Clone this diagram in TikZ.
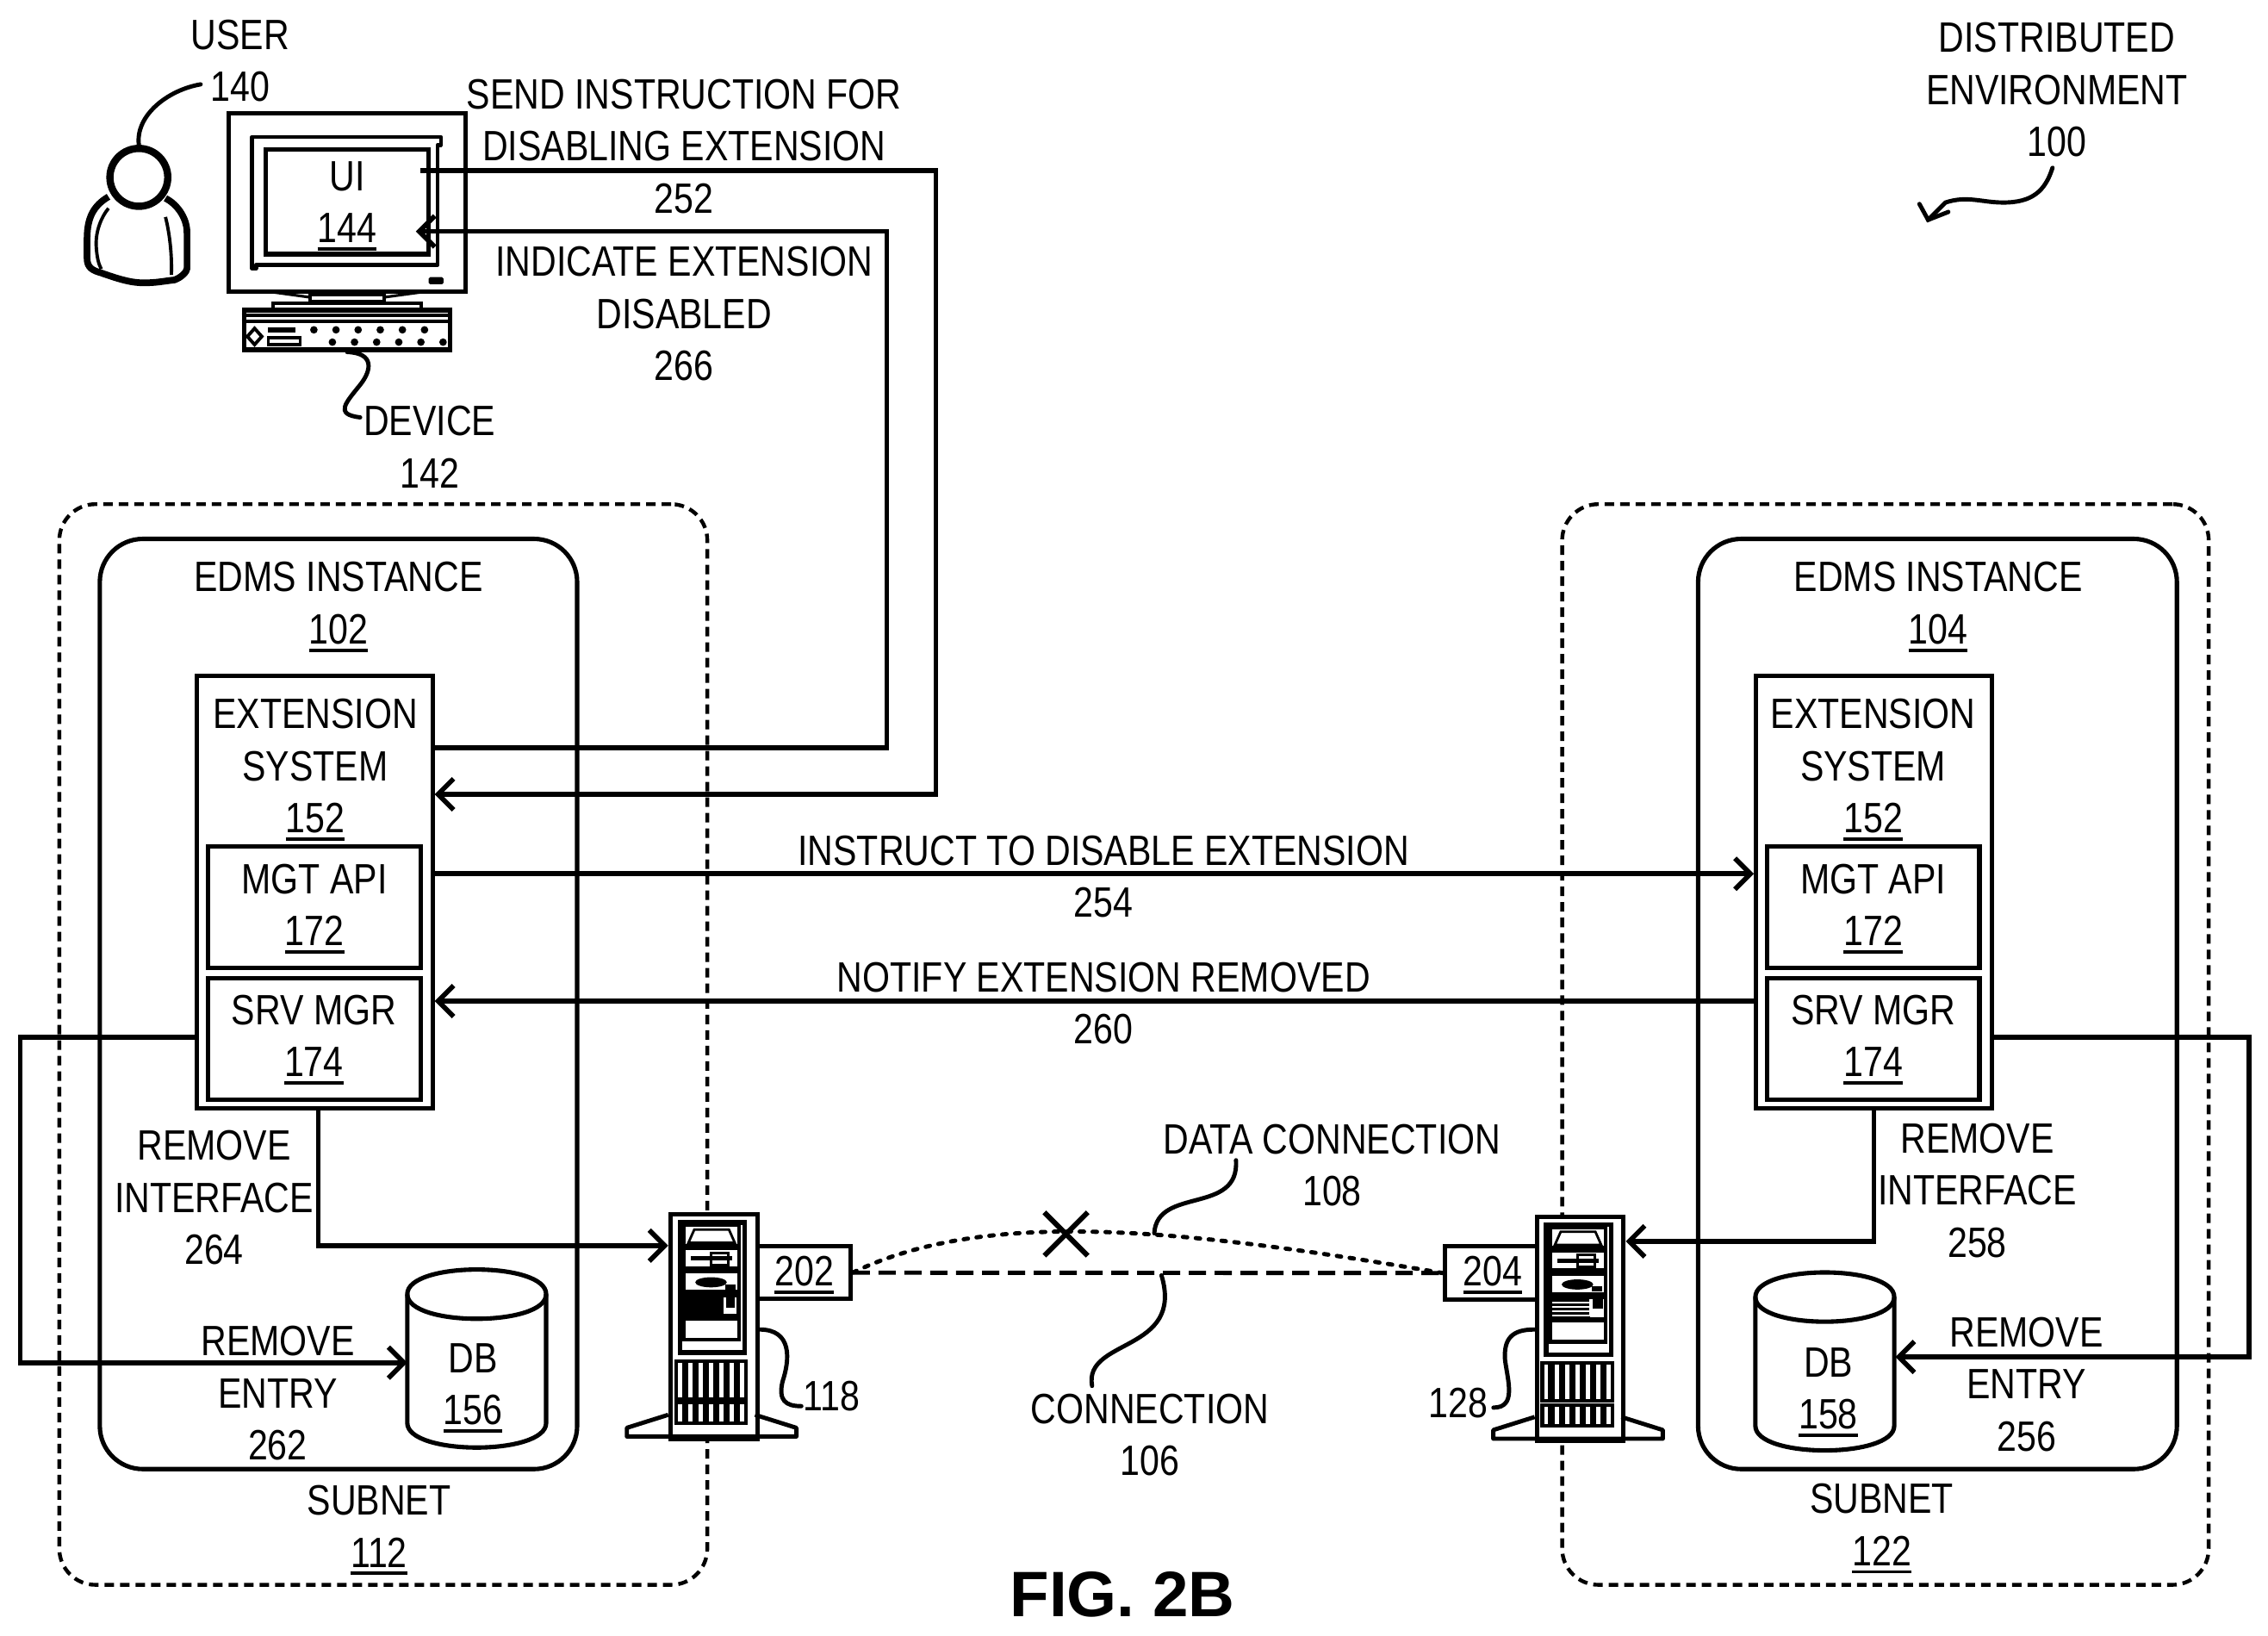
\documentclass[tikz,border=0pt]{standalone}
\usepackage{fontspec}
\setmainfont[FakeStretch=0.835]{Liberation Sans}
\newfontfamily\figfont{Liberation Sans}
\usetikzlibrary{arrows.meta}

\newcommand{\ux}{0.016792cm}
\newcommand{\ulnum}[1]{\setbox0=\hbox{#1}\setbox2=\hbox{\vrule width\wd0 height -1.5pt depth 2.6pt}\dp2=0pt\ht2=0pt\hbox{\rlap{\box2}\box0}}

\tikzset{
  txt/.style={align=center,inner sep=0pt,font=\fontsize{14}{17.2}\selectfont},
  box/.style={draw,fill=white,line width=1.45pt,inner sep=0pt,font=\fontsize{14}{17.2}\selectfont,align=center},
  wire/.style={line width=1.6pt,-{Straight Barb[length=1.8mm,width=3.6mm]}},
  lead/.style={line width=1.4pt,line cap=round},
  subnet/.style={draw,line width=1.25pt,rounded corners=0.42cm,dash pattern=on 0.11cm off 0.07cm,inner sep=0pt},
  edms/.style={draw,line width=1.45pt,rounded corners=0.5cm,inner sep=0pt},
  tower/.pic={
    \draw[line width=1.4pt,line join=round] (0,140) -- (-28.6,149) -- (-28.6,155) -- (88.6,155) -- (88.6,149) -- (60,140);
    \draw[line width=1.5pt] (8,7) rectangle (53,97);
    \foreach \ya/\yb in {9/23,25/38.5,41/55,57/71.5,73.5/88}
      \draw[line width=1.2pt] (11,\ya) rectangle (49,\yb);
    \draw[line width=0.8pt] (14,21) -- (18,12) -- (42,12) -- (46,21) -- cycle;
    \draw[line width=1.4pt] (15.8,32) -- (44.4,32);
    \draw[line width=0.9pt] (29.6,28) rectangle (41.5,36.5);
    \fill (29.6,48.4) ellipse [x radius=10.9,y radius=3.5];
    \fill (39.5,49.8) rectangle (46.4,53.3);
    \foreach \i in {0,...,6} {
      \draw[line width=1.2pt] ({5.3+\i*7.15},102.7) rectangle +(5.4,26.3);
      \draw[line width=1.2pt] ({5.3+\i*7.15},131.7) rectangle +(5.4,14.3);
    }
  },
  drum/.pic={
    \draw[line width=1.45pt,fill=white] (0,17) .. controls (0,-5.7) and (96,-5.7) .. (96,17) -- (96,106) .. controls (96,128.7) and (0,128.7) .. (0,106) -- cycle;
    \draw[line width=1.45pt] (0,17) .. controls (0,39.7) and (96,39.7) .. (96,17);
  },
}

\begin{document}
\begin{tikzpicture}[x=\ux,y=-\ux]
  \fill[white] (0,0) rectangle (1568,1130.3);
  \useasboundingbox (0,0) rectangle (1568,1130.3);

  \node[subnet,minimum width=448*\ux,minimum height=747*\ux] (subnet1) at (265,722) {};
  \node[subnet,minimum width=447*\ux,minimum height=747*\ux] (subnet2) at (1303.5,722) {};
  \node[edms,minimum width=330*\ux,minimum height=643*\ux] (edms1) at (234,694) {};
  \node[edms,minimum width=331*\ux,minimum height=643*\ux] (edms2) at (1339.5,694) {};

  \node[box,minimum width=163*\ux,minimum height=299*\ux] (ext1) at (217.5,616.5) {};
  \node[box,minimum width=163*\ux,minimum height=299*\ux] (ext2) at (1295.5,616.5) {};
  \node[box,minimum width=147*\ux,minimum height=84*\ux] (mgt1) at (217.5,627) {};
  \node[box,minimum width=147*\ux,minimum height=84*\ux] (mgt2) at (1295,627) {};
  \node[box,minimum width=147*\ux,minimum height=84*\ux] (srv1) at (217.5,718) {};
  \node[box,minimum width=147*\ux,minimum height=84*\ux] (srv2) at (1295,718) {};

  \node[txt] (mgttxt1) at (217.5,625.5) {MGT API\\\ulnum{172}};
  \node[txt] (mgttxt2) at (1295,625.5) {MGT API\\\ulnum{172}};
  \node[txt] (srvtxt1) at (217,716) {SRV MGR\\\ulnum{174}};
  \node[txt] (srvtxt2) at (1295,716) {SRV MGR\\\ulnum{174}};
  \node[txt] (edmstxt1) at (234,417) {EDMS INSTANCE\\\ulnum{102}};
  \node[txt] (edmstxt2) at (1340,417) {EDMS INSTANCE\\\ulnum{104}};
  \node[txt] (exttxt1) at (218,529.5) {EXTENSION\\SYSTEM\\\ulnum{152}};
  \node[txt] (exttxt2) at (1295,529.5) {EXTENSION\\SYSTEM\\\ulnum{152}};

  \node[inner sep=0pt,minimum width=96*\ux,minimum height=123*\ux] (db1) at (330,939.5) {};
  \node[inner sep=0pt,minimum width=96*\ux,minimum height=123*\ux] (db2) at (1262,941.5) {};
  \pic at (db1.north west) {drum};
  \pic at (db2.north west) {drum};
  \node[txt] (dbtxt1) at (327,957) {DB\\\ulnum{156}};
  \node[txt] (dbtxt2) at (1264,960) {DB\\\ulnum{158}};

  \node[box,minimum width=64*\ux,minimum height=36.5*\ux] (port1) at (556,879.7) {};
  \node[box,minimum width=64*\ux,minimum height=37*\ux] (port2) at (1031,880) {};
  \node[txt] (porttxt1) at (556,879) {\ulnum{202}};
  \node[txt] (porttxt2) at (1032,879) {\ulnum{204}};
  \node[box,minimum width=60*\ux,minimum height=155*\ux] (tower1) at (493.5,917) {};
  \node[box,minimum width=60*\ux,minimum height=155*\ux] (tower2) at (1092.5,918.5) {};
  \pic at (tower1.north west) {tower};
  \pic at (tower2.north west) {tower};

  \begin{scope}[shift={(tower1.north west)}]
    \fill (11,57) rectangle (49,71.5);
    \fill[white] (38.5,59) rectangle (47.4,70);
    \fill (40,59) rectangle (46,66);
  \end{scope}
  \begin{scope}[shift={(tower2.north west)}]
    \foreach \yl in {59.5,62.5,65.5,68.5}
      \draw[line width=0.9pt] (11,\yl) -- (38,\yl);
    \fill[white] (38.5,59) rectangle (48,71);
    \fill (40,58) rectangle (47,65);
  \end{scope}

  \draw[line width=1.4pt,dash pattern=on 0.2cm off 0.1cm] (port1.east) -- (port2.west);
  \draw[line width=1.4pt,dash pattern=on 0.05cm off 0.1cm,line cap=round] (port1.east) .. controls (680,836) and (810,848) .. (port2.west);
  \draw[line width=1.7pt] (722,838) -- (752,868);
  \draw[line width=1.7pt] (752,838) -- (722,868);

  \node[box,minimum width=163.7*\ux,minimum height=123*\ux] (monitor) at (239.8,140) {};
  \draw[line width=1.3pt,line join=round] (174.3,185.6) -- (174.3,94.7) -- (304.8,94.7) -- (304.8,100.2) -- (302.6,100.2) -- (302.6,183) -- (177,183) -- (177,185.6) -- cycle;
  \node[box,minimum width=112.7*\ux,minimum height=72.2*\ux] (ui) at (240,139.6) {UI\\\ulnum{144}};
  \fill[rounded corners=0.5pt] (296.3,191.6) rectangle (306.6,196.5);
  \draw[line width=0.9pt] (188.9,202) -- (214.4,205.5);
  \draw[line width=0.9pt] (291,202) -- (265.4,205.5);
  \draw[line width=1.2pt] (214.4,203.5) rectangle (265.4,208.4);
  \draw[line width=1.2pt] (189,214.4) -- (189,209.4) -- (291,209.4) -- (291,214.4);
  \node[box,minimum width=142.4*\ux,minimum height=27.4*\ux] (kbd) at (239.8,228.1) {};
  \draw[line width=0.9pt] (kbd.west |- 0,218) -- (kbd.east |- 0,218);
  \draw[line width=1.2pt] (kbd.west |- 0,222) -- (kbd.east |- 0,222);
  \foreach \i in {0,...,5}
    \fill (217+\i*15.3,228) circle [radius=2.6];
  \foreach \i in {0,...,5}
    \fill (229.8+\i*15.3,236.5) circle [radius=2.6];
  \draw[line width=1.1pt] (176,227) -- (181,232.6) -- (176,238.2) -- (171,232.6) -- cycle;
  \draw[line width=1.1pt] (185.5,233.5) rectangle (207.5,238);
  \fill (185.5,226) rectangle (204,230);

  \draw[line width=2.2pt,line join=round] (75,136) .. controls (65,142) and (60.2,150) .. (60.2,165) -- (60.2,178.6) .. controls (60.2,185) and (64,187) .. (69.8,188.6) .. controls (85,194) and (92,195.5) .. (99.5,195.5) .. controls (108,195.5) and (112,194.5) .. (120.6,193.5) .. controls (125,192) and (129.3,188) .. (129.3,185.5) -- (129.3,161) .. controls (129.3,150) and (122,141) .. (114.4,137);
  \draw[line width=1.1pt] (75,144) .. controls (70,150) and (66,160) .. (66.5,170) .. controls (67,178) and (68,182) .. (70,186);
  \draw[line width=1.1pt] (114.4,150) .. controls (117,160) and (119,175) .. (118.5,190);
  \node[circle,draw,fill=white,line width=2.4pt,inner sep=0pt,minimum size=40*\ux] (head) at (96,122.6) {};

  \coordinate (uiout) at (290.5,118);
  \coordinate (uiin) at (287.5,160);
  \draw[wire] (uiout) -- (647,118) -- (647,549) -- (ext1.east |- 0,549);
  \draw[wire] (ext1.east |- 0,517) -- (613,517) -- (613,160) -- (uiin);
  \draw[wire] (ext1.east |- 0,604) -- (ext2.west |- 0,604);
  \draw[wire] (ext2.west |- 0,692) -- (ext1.east |- 0,692);
  \draw[wire] (ext1.west |- 0,717) -- (14,717) -- (14,942) -- (db1.west |- 0,942);
  \draw[wire] (ext2.east |- 0,717) -- (1555,717) -- (1555,938) -- (db2.east |- 0,938);
  \draw[wire] (ext1.south -| 220,0) -- (220,861) -- (tower1.west |- 0,861);
  \draw[wire] (ext2.south) -- (ext2.south |- 0,858) -- (tower2.east |- 0,858);

  \node[txt] (user) at (166,42) {USER\\140};
  \node[txt] (device) at (297,309) {DEVICE\\142};
  \node[txt] (send) at (473,101) {SEND INSTRUCTION FOR\\DISABLING EXTENSION\\252};
  \node[txt] (indicate) at (473,217) {INDICATE EXTENSION\\DISABLED\\266};
  \node[txt] (env) at (1422,62) {DISTRIBUTED\\ENVIRONMENT\\100};
  \node[txt] (instruct) at (763,606) {INSTRUCT TO DISABLE EXTENSION\\254};
  \node[txt] (notify) at (763,693.5) {NOTIFY EXTENSION REMOVED\\260};
  \node[txt] (iface1) at (148,828) {REMOVE\\INTERFACE\\264};
  \node[txt] (iface2) at (1367,823) {REMOVE\\INTERFACE\\258};
  \node[txt] (entry1) at (192,963) {REMOVE\\ENTRY\\262};
  \node[txt] (entry2) at (1401,957) {REMOVE\\ENTRY\\256};
  \node[txt] (subnettxt1) at (262,1055) {SUBNET\\\ulnum{112}};
  \node[txt] (subnettxt2) at (1301,1054) {SUBNET\\\ulnum{122}};
  \node[txt] (data) at (921,805.5) {DATA CONNECTION\\108};
  \node[txt] (conn) at (795,992) {CONNECTION\\106};
  \node[txt] (srvnum1) at (575,965) {118};
  \node[txt] (srvnum2) at (1008,970) {128};
  \node[inner sep=0pt,font=\figfont\bfseries\fontsize{21.2}{25}\selectfont] (fig) at (776,1102) {FIG. 2B};

  \draw[lead] (head.north) .. controls (93.5,80) and (115.6,62.3) .. (138.7,58.3);
  \draw[lead] (kbd.south -| 240,0) .. controls (259,244) and (257,256) .. (249,266) .. controls (239,278.5) and (231,286.5) .. (249,288.5);
  \draw[lead] (854.5,802) .. controls (857,840) and (800,820) .. (798,852.5);
  \draw[lead] (803,881.6) .. controls (819,935) and (749,925) .. (755,958);
  \draw[lead] (tower1.east |- 0,919) .. controls (548,919) and (546,940) .. (541,955) .. controls (538,968) and (543,972) .. (554,972);
  \draw[lead] (tower2.west |- 0,919) .. controls (1045.5,919) and (1039.5,925) .. (1040.5,940) .. controls (1042.5,955) and (1048.5,973) .. (1032.5,973);
  \draw[lead] (1419,116) .. controls (1414,132) and (1405,140) .. (1385,140) .. controls (1370,140) and (1360,135) .. (1345,140) -- (1333,152);
  \draw[lead] (1327,141) -- (1333,152) -- (1347,146.5);
\end{tikzpicture}
\end{document}
